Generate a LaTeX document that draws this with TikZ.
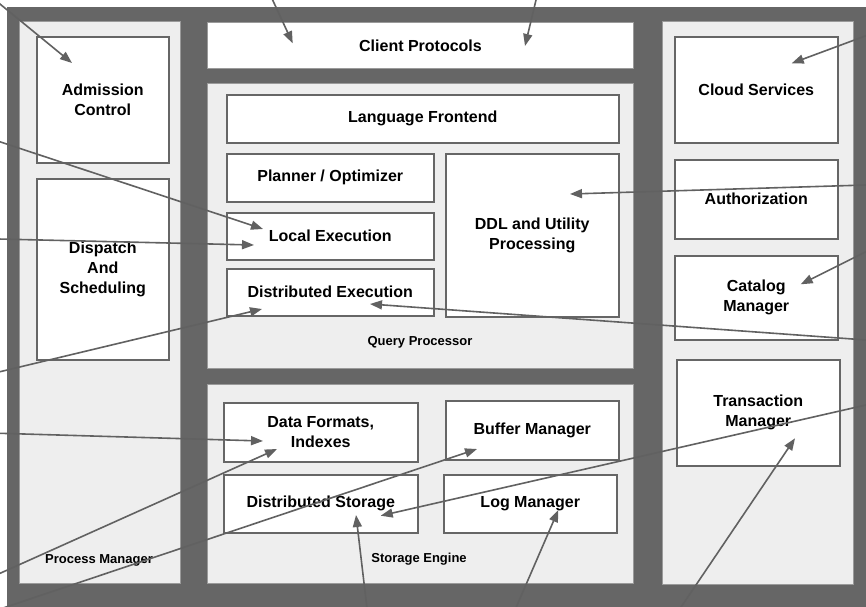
\documentclass[tikz,border=0pt]{standalone}
\usepackage{fontspec}
\setmainfont{Liberation Sans}
\usetikzlibrary{arrows.meta}
\definecolor{framec}{HTML}{666666}
\definecolor{panelfill}{HTML}{EEEEEE}
\definecolor{panelline}{HTML}{9A9A9A}
\definecolor{boxline}{HTML}{666666}
\definecolor{arrowc}{HTML}{616161}
\begin{document}
\begin{tikzpicture}[x=1pt,y=-1pt,
  panel/.style={draw=panelline, fill=panelfill, line width=1pt, anchor=north west, inner sep=0pt},
  box/.style={draw=boxline, fill=white, line width=1.5pt, align=center, anchor=north west,
    font=\fontsize{16}{20}\selectfont\bfseries, inner sep=0pt},
  plabel/.style={font=\fontsize{13}{15}\selectfont\bfseries, inner sep=0pt},
  arr/.style={draw=arrowc, line width=1.6pt, -{Triangle[length=12pt,width=9pt]}}]
\clip (0,0) rectangle (866,606);
% outer frame
\node[fill=framec, anchor=north west, minimum width=880, minimum height=620, inner sep=0pt] (frame) at (7,7) {};
% panels
\node[panel, minimum width=161, minimum height=562] (pm) at (19,21) {};
\node[panel, minimum width=426, minimum height=285] (qp) at (207,83) {};
\node[panel, minimum width=426, minimum height=199] (se) at (207,384) {};
\node[panel, minimum width=191, minimum height=563] (rp) at (662,21) {};
% panel labels
\node[plabel] (pml) at (99,560) {Process Manager};
\node[plabel] (qpl) at (420,342) {Query Processor};
\node[plabel] (sel) at (419,559) {Storage Engine};
% boxes
\node[box, draw=panelline, line width=1pt, minimum width=426, minimum height=46] (client) at (207,22) {Client Protocols};
\node[box, minimum width=132, minimum height=126] (adm) at (36,36) {Admission\\Control};
\node[box, minimum width=132, minimum height=181] (disp) at (36,178) {Dispatch\\And\\Scheduling};
\node[box, minimum width=392, minimum height=48] (lang) at (226,94) {Language Frontend};
\node[box, minimum width=207, minimum height=48] (plan) at (226,153) {Planner / Optimizer};
\node[box, minimum width=207, minimum height=47] (local) at (226,212) {Local Execution};
\node[box, minimum width=207, minimum height=47] (dexec) at (226,268) {Distributed Execution};
\node[box, minimum width=173, minimum height=163] (ddl) at (445,153) {DDL and Utility\\Processing};
\node[box, minimum width=194, minimum height=59] (dfmt) at (223,402) {Data Formats,\\Indexes};
\node[box, minimum width=173, minimum height=59] (buf) at (445,400) {Buffer Manager};
\node[box, minimum width=194, minimum height=58] (dstor) at (223,474) {Distributed Storage};
\node[box, minimum width=173, minimum height=58] (logm) at (443,474) {Log Manager};
\node[box, minimum width=163, minimum height=106] (cloud) at (674,36) {Cloud Services};
\node[box, minimum width=163, minimum height=79] (auth) at (674,159) {Authorization};
\node[box, minimum width=163, minimum height=84] (cat) at (674,255) {Catalog\\Manager};
\node[box, minimum width=163, minimum height=106] (txn) at (676,359) {Transaction\\Manager};
% arrow end points
\coordinate (s1) at (-12,-5.8);   \coordinate (t1) at (72,63);
\coordinate (s2) at (-10,138.5);  \coordinate (t2) at (263,229);
\coordinate (s3) at (-10,238.8);  \coordinate (t3) at (254,245);
\coordinate (s4) at (-10,374.1);  \coordinate (t4) at (262,309);
\coordinate (s5) at (-10,433);    \coordinate (t5) at (263,441);
\coordinate (s6) at (-10,577.8);  \coordinate (t6) at (277,449);
\coordinate (s7) at (-10,612.4);  \coordinate (t7) at (477,449);
\coordinate (s8) at (268,-10);    \coordinate (t8) at (292.7,43.3);
\coordinate (s9) at (538.4,-10);  \coordinate (t9) at (525,46);
\coordinate (s10) at (876,32);    \coordinate (t10) at (791.7,63.3);
\coordinate (s11) at (876,184.7); \coordinate (t11) at (570,194);
\coordinate (s12) at (876,246.7); \coordinate (t12) at (800.7,284.3);
\coordinate (s13) at (876,340.7); \coordinate (t13) at (370,304);
\coordinate (s14) at (876,402.7); \coordinate (t14) at (380.7,515.7);
\coordinate (s15) at (367.9,616); \coordinate (t15) at (356,515);
\coordinate (s16) at (512.4,616); \coordinate (t16) at (558.3,510);
\coordinate (s17) at (675,616);   \coordinate (t17) at (795,438.3);
% arrows
\foreach \i in {1,...,17} { \draw[arr] (s\i) -- (t\i); }
\end{tikzpicture}
\end{document}
